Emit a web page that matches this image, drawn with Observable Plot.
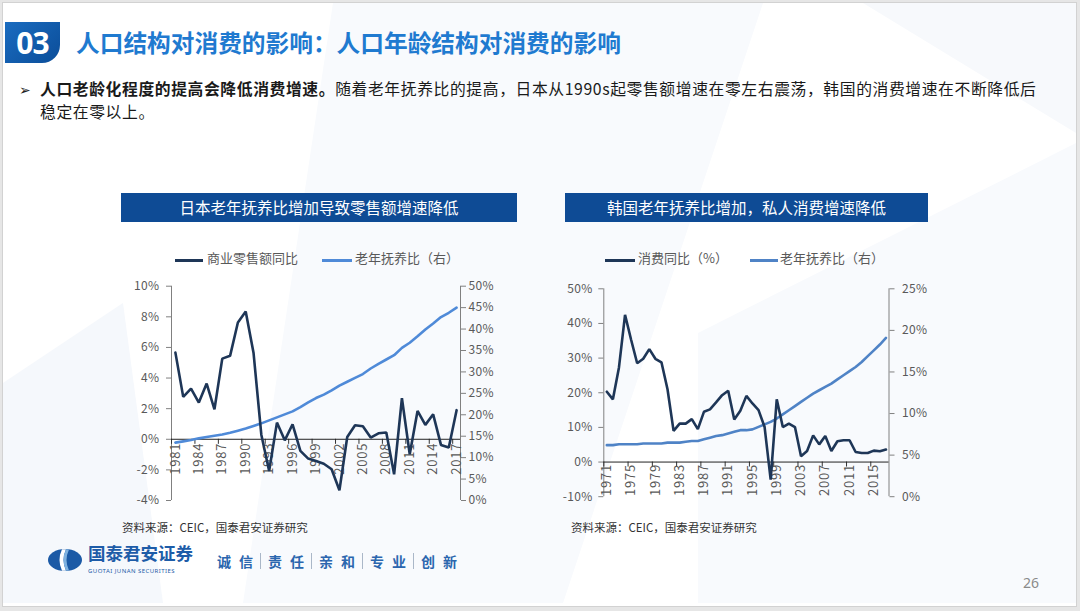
<!DOCTYPE html>
<html>
<head>
<meta charset="utf-8">
<script src="https://cdn.jsdelivr.net/npm/d3@7"></script>
<script src="https://cdn.jsdelivr.net/npm/@observablehq/plot@0.6"></script>
<style>
html,body{margin:0;padding:0;width:1080px;height:611px;overflow:hidden;background:#e6e6e6;font-family:"Noto Sans CJK SC","Noto Sans",sans-serif;}
#slide{position:absolute;left:3px;top:3px;width:1073px;height:603px;background:#fff;overflow:hidden;box-shadow:0 0 0 1px #d2d2d2;}
.abs{position:absolute;white-space:nowrap;}
.bar{background:#0e4b95;color:#fff;font-size:15.5px;height:29px;line-height:29px;text-align:center;}
.leg{font-size:13px;color:#595959;line-height:16px;}
.legline{height:2.6px;}
.src{font-size:11.5px;color:#333;line-height:14px;}
svg text{letter-spacing:0.4px;}
svg text[transform*="rotate"]{letter-spacing:0.8px;}
</style>
</head>
<body>
<div id="slide">
  <svg width="1073" height="603" style="position:absolute;left:0;top:0">
    <polygon points="330,0 760,0 560,600 240,600" fill="#f8fafd"/>
    <polygon points="0,380 120,300 160,600 0,600" fill="#f5f8fc"/>
    <polygon points="695,330 1073,140 1073,600 695,600" fill="#f8fafd"/>
    <polygon points="860,0 1073,0 1073,130" fill="#f7f9fc"/>
  </svg>
</div>

<!-- header -->
<div class="abs" style="left:5px;top:22px;width:55px;height:41px;border-bottom-right-radius:18px;background:linear-gradient(135deg,#1a6cc0,#0b4d99);color:#fff;font-weight:700;font-size:30px;line-height:41px;text-align:center;font-family:'Noto Sans','Noto Sans CJK SC',sans-serif;letter-spacing:-1px;">03</div>
<div class="abs" style="left:76px;top:27px;font-size:23.7px;line-height:30px;font-weight:700;color:#1f7ad0;">人口结构对消费的影响：人口年龄结构对消费的影响</div>

<div class="abs" style="left:19px;top:80px;font-size:14px;line-height:21px;font-family:'DejaVu Sans',sans-serif;color:#222;">➢</div>
<div class="abs" style="left:40px;top:78px;font-size:15.8px;line-height:22px;color:#1a1a1a;letter-spacing:0.6px;"><b>人口老龄化程度的提高会降低消费增速。</b>随着老年抚养比的提高，日本从1990s起零售额增速在零左右震荡，韩国的消费增速在不断降低后</div>
<div class="abs" style="left:40px;top:101px;font-size:15.8px;line-height:22px;color:#1a1a1a;letter-spacing:0.6px;">稳定在零以上。</div>

<!-- chart titles -->
<div class="abs bar" style="left:121px;top:193px;width:396px;">日本老年抚养比增加导致零售额增速降低</div>
<div class="abs bar" style="left:565px;top:193px;width:363px;">韩国老年抚养比增加，私人消费增速降低</div>

<!-- legends -->
<div class="abs legline" id="jpL1" style="left:175px;top:259px;width:28px;"></div>
<div class="abs leg" style="left:207px;top:250px;">商业零售额同比</div>
<div class="abs legline" id="jpL2" style="left:322px;top:259px;width:30px;"></div>
<div class="abs leg" style="left:355px;top:250px;">老年抚养比（右）</div>

<div class="abs legline" id="krL1" style="left:605px;top:259px;width:30px;"></div>
<div class="abs leg" style="left:638px;top:250px;">消费同比（%）</div>
<div class="abs legline" id="krL2" style="left:750px;top:259px;width:28px;"></div>
<div class="abs leg" style="left:780px;top:250px;">老年抚养比（右）</div>

<div id="jpChart" class="abs" style="left:120px;top:275px;"></div>
<div id="krChart" class="abs" style="left:560px;top:278px;"></div>

<div class="abs src" style="left:122px;top:520px;">资料来源：CEIC，国泰君安证券研究</div>
<div class="abs src" style="left:571px;top:520px;">资料来源：CEIC，国泰君安证券研究</div>

<!-- footer -->
<svg class="abs" style="left:47px;top:548px" width="36" height="24">
  <ellipse cx="18" cy="12" rx="17" ry="11" fill="#1b5aa6"/>
  <path d="M15,1.3 Q10,12 15,22.7 L19,22.7 Q14,12 19,1.3 Z" fill="#fff"/>
  <path d="M19,1.3 Q14,12 19,22.7 L22,22.5 Q17,12 22,1.5 Z" fill="#7fb2e0"/>
</svg>
<div class="abs" style="left:88px;top:543px;font-size:17.5px;line-height:20px;font-weight:700;color:#1d5ca8;">国泰君安证券</div>
<div class="abs" style="left:88px;top:568px;font-size:6px;line-height:7px;color:#1d5ca8;letter-spacing:0.45px;font-family:'Noto Sans',sans-serif;">GUOTAI JUNAN SECURITIES</div>
<div class="abs" style="left:217px;top:552px;font-size:14px;line-height:18px;font-weight:700;color:#2b66ae;display:flex;align-items:center;">
  <span style="letter-spacing:8px">诚信</span><span style="display:inline-block;width:1px;height:16px;background:#aab7c8;margin:0 7px 0 -1px"></span>
  <span style="letter-spacing:8px">责任</span><span style="display:inline-block;width:1px;height:16px;background:#aab7c8;margin:0 7px 0 -1px"></span>
  <span style="letter-spacing:8px">亲和</span><span style="display:inline-block;width:1px;height:16px;background:#aab7c8;margin:0 7px 0 -1px"></span>
  <span style="letter-spacing:8px">专业</span><span style="display:inline-block;width:1px;height:16px;background:#aab7c8;margin:0 7px 0 -1px"></span>
  <span style="letter-spacing:8px">创新</span>
</div>
<div class="abs" style="left:1023px;top:574px;font-size:14px;line-height:18px;color:#8a8a8a;font-family:'Noto Sans',sans-serif;">26</div>

<script>
// ---------- Japan ----------
const jpYears = d3.range(1981, 2018);
const jpRetail = [5.66, 2.77, 3.31, 2.40, 3.64, 1.96, 5.27, 5.45, 7.63, 8.34,
  5.66, 0.3, -2.07, 1.09, -0.07, 0.98, -0.76, -1.26, -1.42, -1.6,
  -1.96, -3.33, 0.15, 0.92, 0.85, 0.11, 0.39, 0.44, -2.29, 2.68,
  -0.98, 1.85, 0.94, 1.63, -0.37, -0.54, 1.90];
const jpOld = [13.5, 13.8, 14.1, 14.5, 14.8, 15.1, 15.4, 15.8, 16.3, 16.8,
  17.4, 18.0, 18.7, 19.4, 20.1, 20.8, 21.8, 22.9, 23.9, 24.7,
  25.7, 26.8, 27.7, 28.6, 29.5, 30.8, 31.9, 32.9, 33.9, 35.6,
  36.8, 38.3, 39.9, 41.3, 42.8, 43.8, 45.0];
const jpXTicks = [1981, 1984, 1987, 1990, 1993, 1996, 1999, 2002, 2005, 2008, 2011, 2014, 2017];
const jpLeftTicks = [-4, -2, 0, 2, 4, 6, 8, 10];
const jpRightTicks = [0, 5, 10, 15, 20, 25, 30, 35, 40, 45, 50];

// ---------- Korea ----------
const krYears = d3.range(1971, 2018);
const krCons = [20.3, 18.1, 27.3, 42.5, 35.3, 28.5, 29.8, 32.6, 29.8, 28.8,
  21.0, 9.0, 11.1, 11.1, 12.4, 9.5, 14.5, 15.2, 17.2, 19.3,
  20.6, 12.3, 14.8, 19.1, 16.9, 15.0, 10.1, -5.1, 18.1, 10.1,
  11.1, 10.1, 1.7, 3.2, 7.7, 5.1, 7.5, 3.2, 6.0, 6.3,
  6.3, 2.9, 2.6, 2.6, 3.3, 3.1, 3.6];
const krOld = [6.2, 6.2, 6.3, 6.3, 6.3, 6.3, 6.4, 6.4, 6.4, 6.4,
  6.5, 6.5, 6.5, 6.6, 6.7, 6.7, 6.9, 7.1, 7.3, 7.4,
  7.6, 7.8, 8.0, 8.0, 8.1, 8.4, 8.7, 9.0, 9.4, 9.9,
  10.4, 10.9, 11.4, 11.9, 12.4, 12.8, 13.2, 13.6, 14.1, 14.6,
  15.1, 15.6, 16.2, 16.9, 17.6, 18.3, 19.1];
const krXTicks = [1971, 1975, 1979, 1983, 1987, 1991, 1995, 1999, 2003, 2007, 2011, 2015];
const krLeftTicks = [-10, 0, 10, 20, 30, 40, 50];
const krRightTicks = [0, 5, 10, 15, 20, 25];

const NAVY = "#1e3657";
const JP_BLUE = "#4f8ad8";
const KR_BLUE = "#4f83c6";
const AXIS = "#808080";
const LABEL = "#595959";
const FONT = "'Noto Sans CJK SC','Noto Sans',sans-serif";

document.getElementById("jpL1").style.background = NAVY;
document.getElementById("jpL2").style.background = JP_BLUE;
document.getElementById("krL1").style.background = NAVY;
document.getElementById("krL2").style.background = KR_BLUE;

function dualChart({years, left, right, leftDomain, rightMax, xTicks, leftTicks, rightTicks,
                    width, height, margins, blue, tickLen, dyLabel, padR, padL}) {
  const [lo, hi] = leftDomain;
  const toLeft = r => lo + r / rightMax * (hi - lo);
  const fromLeft = v => Math.round((v - lo) / (hi - lo) * rightMax);
  const data = years.map((year, i) => ({year, left: left[i], right: right[i]}));
  const x0 = years[0] - 0.5, x1 = years[years.length - 1] + 0.5;
  const boundaries = xTicks.map(t => t - 0.5);
  return Plot.plot({
    width, height,
    marginLeft: margins[0], marginRight: margins[1], marginTop: margins[2], marginBottom: margins[3],
    x: {domain: [x0, x1], axis: null},
    y: {domain: [lo, hi]},
    style: {background: "transparent", fontFamily: FONT, fontSize: "12px", color: LABEL, overflow: "visible"},
    marks: [
      Plot.axisY(leftTicks, {anchor: "left", tickSize: 5, tickPadding: padL, tickFormat: d => d + "%", label: null, color: LABEL, stroke: AXIS}),
      Plot.axisY(rightTicks.map(toLeft), {anchor: "right", tickSize: 5, tickPadding: padR, tickFormat: d => fromLeft(d) + "%", label: null, color: LABEL, stroke: AXIS}),
      Plot.ruleX([x0], {y1: lo, y2: hi, stroke: AXIS}),
      Plot.ruleX([x1], {y1: lo, y2: hi, stroke: AXIS}),
      Plot.ruleX(boundaries, {y1: 0, y2: -tickLen, stroke: "#333"}),
      Plot.text(xTicks, {x: d => d, y: 0, text: d => String(d), rotate: -90, textAnchor: "end", dy: dyLabel, fill: LABEL, fontSize: 13}),
      Plot.ruleY([0], {stroke: "#222", strokeWidth: 1}),
      Plot.line(data, {x: "year", y: d => toLeft(d.right), stroke: blue, strokeWidth: 2.6}),
      Plot.line(data, {x: "year", y: "left", stroke: NAVY, strokeWidth: 2.6, strokeLinejoin: "miter"})
    ]
  });
}

document.getElementById("jpChart").append(dualChart({
  years: jpYears, left: jpRetail, right: jpOld, leftDomain: [-4, 10], rightMax: 50,
  xTicks: jpXTicks, leftTicks: jpLeftTicks, rightTicks: jpRightTicks,
  width: 380, height: 235, margins: [51, 40, 10.7, 10], blue: JP_BLUE, tickLen: 0.33, dyLabel: 3.5, padL: 7, padR: 3
}));

document.getElementById("krChart").append(dualChart({
  years: krYears, left: krCons, right: krOld, leftDomain: [-10, 50], rightMax: 25,
  xTicks: krXTicks, leftTicks: krLeftTicks, rightTicks: krRightTicks,
  width: 380, height: 228, margins: [43.3, 51.5, 10.3, 9.8], blue: KR_BLUE, tickLen: 1.45, dyLabel: 2, padL: 6, padR: 8
}));
</script>
</body>
</html>
